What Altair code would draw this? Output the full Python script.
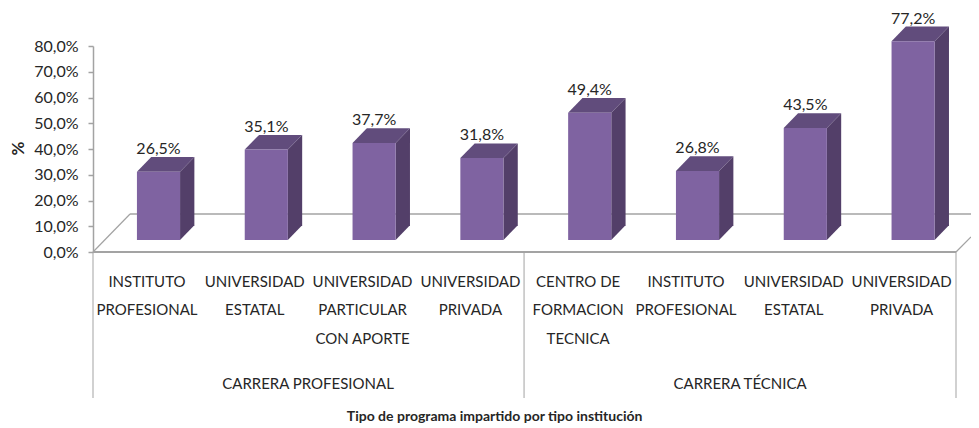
import altair as alt
import pandas as pd

# --- data ---
values = [26.5, 35.1, 37.7, 31.8, 49.4, 26.8, 43.5, 77.2]
value_labels = ["26,5%", "35,1%", "37,7%", "31,8%", "49,4%", "26,8%", "43,5%", "77,2%"]
categories = [
    ["INSTITUTO", "PROFESIONAL"],
    ["UNIVERSIDAD", "ESTATAL"],
    ["UNIVERSIDAD", "PARTICULAR", "CON APORTE"],
    ["UNIVERSIDAD", "PRIVADA"],
    ["CENTRO DE", "FORMACION", "TECNICA"],
    ["INSTITUTO", "PROFESIONAL"],
    ["UNIVERSIDAD", "ESTATAL"],
    ["UNIVERSIDAD", "PRIVADA"],
]
groups = ["CARRERA PROFESIONAL", "CARRERA TÉCNICA"]
group_x = [1.387, 5.395]
y_ticks = [0, 10, 20, 30, 40, 50, 60, 70, 80]
x_axis_title = "Tipo de programa impartido por tipo institución"

# axis units: x = bar index, y = percent
X_MIN, X_MAX = -0.6076, 7.537
BASE = 4.66       # bars stand on the floor, a little above the 0 line
HALF = 0.2
DX, DY = 0.1327, 5.7
LABEL_SHIFT = -0.107

line_x = [-0.6076, -0.264, -0.6076, 7.398, -0.6076, 3.391, 7.398]
line_x2 = [7.398, 7.537, -0.264, 7.537, -0.6076, 3.391, 7.398]
line_y = [0, 14.76, 0, 0, 0, 0, 0]
line_y2 = [0, 14.76, 14.76, 5.83, -56.7, -56.7, -56.7]
line_w = [2, 1.5, 1.2, 1.2, 1, 1, 1]
line_row_y = [-11.65, -22.5, -33.8]
GROUP_Y = -51.3
TITLE_Y = -64.1
TITLE_X = 3.118

FONT = "Lato"
GREY = "#A3A3A3"
TXT = "#262626"

rows = range(len(values))
front = pd.DataFrame({
    "x": [i - HALF for i in rows], "x2": [i + HALF for i in rows],
    "y": [BASE] * len(values), "y2": [BASE + v for v in values]})
side = pd.DataFrame([r for i, v in enumerate(values) for r in (
    {"b": i, "x": i + HALF, "y": BASE, "y2": BASE + v},
    {"b": i, "x": i + HALF + DX, "y": BASE + DY, "y2": BASE + v + DY})])
top = pd.DataFrame([r for i, v in enumerate(values) for r in (
    {"b": i, "y": BASE + v, "x": i - HALF, "x2": i + HALF},
    {"b": i, "y": BASE + v + DY, "x": i - HALF + DX, "x2": i + HALF + DX})])
val_df = pd.DataFrame({"x": list(rows), "y": [BASE + v + DY for v in values], "t": value_labels})
cat_df = pd.DataFrame([{"x": i + LABEL_SHIFT, "y": line_row_y[j], "t": s}
                       for i, c in enumerate(categories) for j, s in enumerate(c)])
grp_df = pd.DataFrame({"x": group_x, "y": [GROUP_Y] * 2, "t": groups})
ttl_df = pd.DataFrame({"x": [TITLE_X], "y": [TITLE_Y], "t": [x_axis_title]})
lines = pd.DataFrame({"x": line_x, "x2": line_x2, "y": line_y, "y2": line_y2, "w": line_w})

xs = alt.Scale(domain=[X_MIN, X_MAX], nice=False, zero=False)
ys = alt.Scale(domain=[0, 80], nice=False, zero=False)
y_axis = alt.Axis(
    values=y_ticks, title="%", titleFont=FONT, titleFontSize=17, titleFontWeight="bold",
    titleColor=TXT, titleX=-66, titleY=102, titleAngle=270, labelFont=FONT, labelFontSize=16,
    labelColor=TXT, labelPadding=10, tickColor=GREY, domainColor=GREY, tickSize=5,
    tickWidth=1.5, domainWidth=1.5, grid=False, labelFlush=False, labelOverlap=False,
    labelExpr="replace(format(datum.value,'.1f'),'.',',')+'%'")
X = alt.X("x:Q", scale=xs, axis=None)
Y = alt.Y("y:Q", scale=ys, axis=y_axis)

rule_layer = alt.Chart(lines).mark_rule(color=GREY).encode(
    x=X, x2="x2:Q", y=Y, y2="y2:Q",
    strokeWidth=alt.StrokeWidth("w:Q", scale=None))
side_layer = alt.Chart(side).mark_area(color="#533F69", interpolate="linear").encode(
    x=X, y=Y, y2="y2:Q", detail="b:N")
top_layer = alt.Chart(top).mark_area(color="#614C7C", orient="horizontal", interpolate="linear").encode(
    y=Y, x=X, x2="x2:Q", detail="b:N")
front_layer = alt.Chart(front).mark_rect(color="#7F63A1").encode(x=X, x2="x2:Q", y=Y, y2="y2:Q")


def text(df, size=15, weight="normal", dy=0):
    return alt.Chart(df).mark_text(font=FONT, fontSize=size, fontWeight=weight, color=TXT,
                                   align="center", baseline="middle", dy=dy).encode(
        x=X, y=Y, text="t:N")


chart = alt.layer(
    rule_layer, side_layer, top_layer, front_layer,
    text(val_df, size=16, dy=-8), text(cat_df), text(grp_df), text(ttl_df, size=14, weight="bold"),
).properties(
    width=878, height=206,
    padding={"left": 85, "top": 38, "right": 0, "bottom": 172},
    autosize=alt.AutoSizeParams(type="none"),
    background="white",
).configure_view(strokeWidth=0)

chart.save("out.html", embed_options={"renderer": "svg", "actions": False})
